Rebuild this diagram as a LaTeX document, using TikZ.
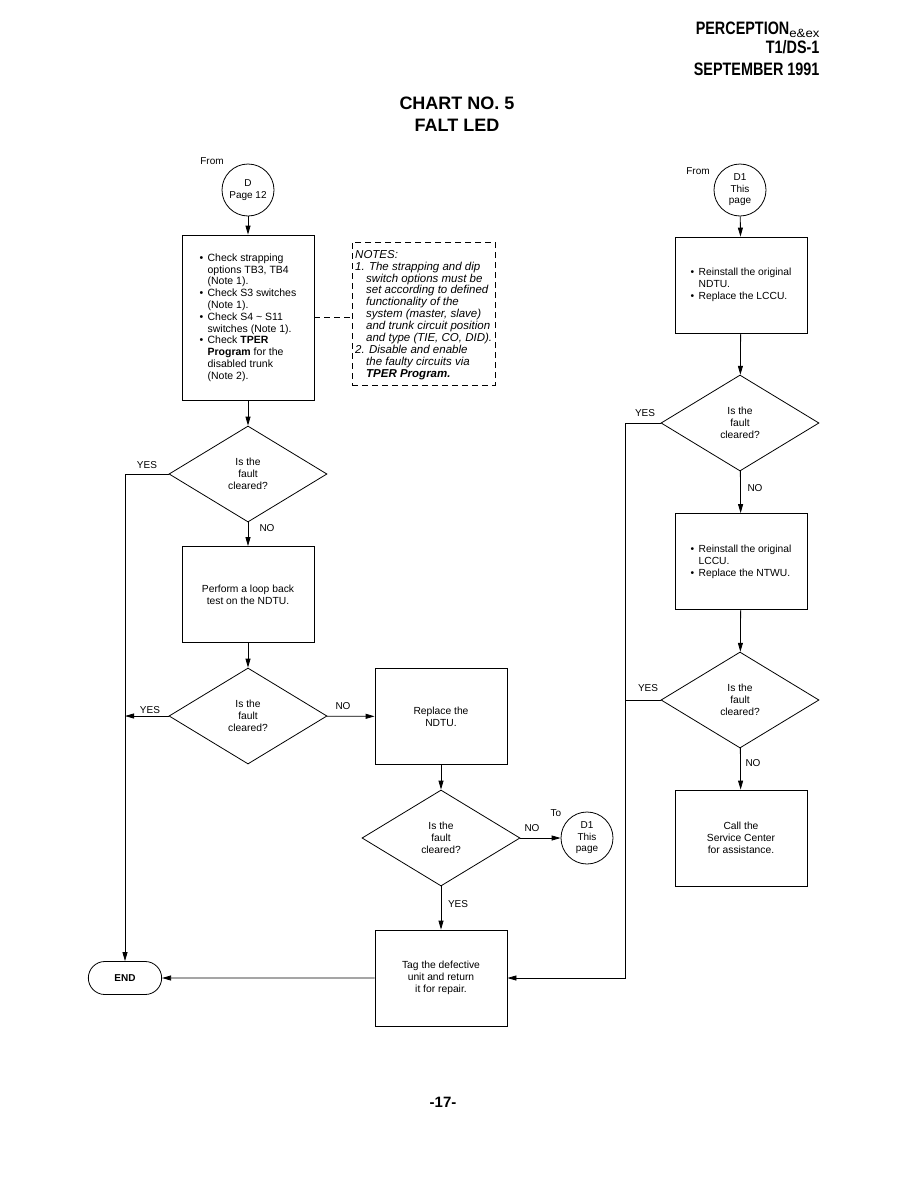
\documentclass[tikz,border=0pt]{standalone}
\usepackage{fontspec}
\setmainfont{Liberation Sans}
\usetikzlibrary{positioning,shapes.geometric,shapes.misc,arrows.meta}

\newcommand\bul{\makebox[8pt][l]{\textbullet}}
\newcommand\ind{\hspace*{8pt}}
\newcommand\nind{\hspace*{11pt}}

\begin{document}
\begin{tikzpicture}[
  x=1pt, y=-1pt,
  lbl/.style={font=\fontsize{10}{12}\selectfont},
  hdr/.style={anchor=base east, font=\bfseries\fontsize{18}{18}\selectfont},
  procbox/.style={draw, line width=0.8pt, minimum width=132, minimum height=96,
    align=center, font=\fontsize{10.3}{12}\selectfont},
  decision/.style={diamond, draw, line width=0.8pt, minimum width=158,
    minimum height=96, inner sep=0pt, align=center, font=\fontsize{10.3}{12}\selectfont},
  conn/.style={circle, draw, line width=0.8pt, minimum size=52, inner sep=0pt,
    align=center, font=\fontsize{10}{11.5}\selectfont},
  terminal/.style={rounded rectangle, draw, line width=0.8pt, minimum width=80,
    minimum height=33, font=\bfseries\fontsize{10}{12}\selectfont},
  arr/.style={draw, line width=0.8pt, -{Triangle[length=9pt,width=5pt]}},
  line/.style={draw, line width=0.8pt}
  ]
  \useasboundingbox (0,0) rectangle (912,1191);

  % header and title
  \node (hdr1) [hdr] at (823,34)
    {\scalebox{0.8}[1]{PERCEPTION}\raisebox{-4pt}{\mdseries\fontsize{12}{12}\selectfont\scalebox{1.1}[1]{e\&ex}}};
  \node (hdr2) [hdr] at (823,53) {\scalebox{0.8}[1]{T1/DS-1}};
  \node (hdr3) [hdr] at (823,75) {\scalebox{0.8}[1]{SEPTEMBER 1991}};
  \node (title) [font=\bfseries\fontsize{18}{22}\selectfont, align=center]
    at (457,114) {CHART NO. 5\\FALT LED};

  % left column
  \node (fromD) [lbl] at (212,161) {From};
  \node (cD) [conn] at (248,190) {D\\Page 12};
  \node (chk) [procbox, minimum height=165, align=left, font=\fontsize{10.5}{11.8}\selectfont]
    at (248,317.5) {\bul Check strapping\\
      \ind options TB3, TB4\\
      \ind (Note 1).\\
      \bul Check S3 switches\\
      \ind (Note 1).\\
      \bul Check S4 \char`~\ S11\\
      \ind switches (Note 1).\\
      \bul Check \textbf{TPER}\\
      \ind \textbf{Program} for the\\
      \ind disabled trunk\\
      \ind (Note 2).};
  \node (notes) [draw, line width=0.8pt, dash pattern=on 6pt off 4pt,
    minimum width=143, minimum height=143] at (423.5,313.5) {};
  \node (notestxt) [anchor=north west, inner sep=0pt, align=left,
    font=\itshape\fontsize{11.5}{11.9}\selectfont] at (355,250)
    {NOTES:\\
      1. The strapping and dip\\
      \nind switch options must be\\
      \nind set according to defined\\
      \nind functionality of the\\
      \nind system (master, slave)\\
      \nind and trunk circuit position\\
      \nind and type (TIE, CO, DID).\\
      2. Disable and enable\\
      \nind the faulty circuits via\\
      \nind \textbf{TPER Program.}};
  \node (q1) [decision] at (248,474) {Is the\\fault\\cleared?};
  \node (loop) [procbox] at (248,594.5) {Perform a loop back\\test on the NDTU.};
  \node (q2) [decision] at (248,716) {Is the\\fault\\cleared?};
  \node (endn) [terminal] at (125,978) {END};

  % middle column
  \node (repl) [procbox] at (441,716.5) {Replace the\\NDTU.};
  \node (q3) [decision] at (441,838) {Is the\\fault\\cleared?};
  \node (toD1) [lbl] at (556,813) {To};
  \node (cD1a) [conn] at (587,838) {D1\\This\\page};
  \node (tag) [procbox] at (441,978) {Tag the defective\\unit and return\\it for repair.};

  % right column
  \node (fromD1) [lbl] at (698,171) {From};
  \node (cD1b) [conn] at (740,190) {D1\\This\\page};
  \node (lccu) [procbox, align=left] at (741,285)
    {\bul Reinstall the original\\ \ind NDTU.\\ \bul Replace the LCCU.};
  \node (q4) [decision] at (740,423) {Is the\\fault\\cleared?};
  \node (ntwu) [procbox, align=left] at (741,561.5)
    {\bul Reinstall the original\\ \ind LCCU.\\ \bul Replace the NTWU.};
  \node (q5) [decision] at (740,700) {Is the\\fault\\cleared?};
  \node (svc) [procbox] at (741,838) {Call the\\Service Center\\for assistance.};
  \coordinate (rbus) at (625,423);

  % branch labels
  \node (y1) [lbl] at (147,465) {YES};
  \node (n1) [lbl] at (267,528) {NO};
  \node (y2) [lbl] at (150,710) {YES};
  \node (n2) [lbl] at (343,706) {NO};
  \node (n3) [lbl] at (532,828) {NO};
  \node (y3) [lbl] at (458,904) {YES};
  \node (y4) [lbl] at (645,413) {YES};
  \node (n4) [lbl] at (755,488) {NO};
  \node (y5) [lbl] at (648,688) {YES};
  \node (n5) [lbl] at (753,763) {NO};

  \node (pnum) [font=\bfseries\fontsize{15}{15}\selectfont] at (443,1102) {-17-};

  % connectors
  \path [arr] (cD) -- (chk);
  \path [line, dash pattern=on 6pt off 4pt] (chk.east) -- (chk.east -| notes.west);
  \path [arr] (chk) -- (q1);
  \path [arr] (q1) -- (loop);
  \path [arr] (q1.west) -| (endn.north);
  \path [arr] (loop) -- (q2);
  \path [arr] (q2.west) -- (q2.west -| endn.north);
  \path [arr] (q2) -- (repl);
  \path [arr] (repl) -- (q3);
  \path [arr] (q3) -- (cD1a);
  \path [arr] (q3) -- (tag);
  \path [arr] (tag) -- (endn);
  \path [arr] (cD1b) -- (lccu);
  \path [arr] (lccu) -- (q4);
  \path [arr] (q4) -- (ntwu);
  \path [arr] (q4.west) -- (rbus) |- (tag.east);
  \path [arr] (ntwu) -- (q5);
  \path [line] (q5.west) -- (q5.west -| rbus);
  \path [arr] (q5) -- (svc);
\end{tikzpicture}
\end{document}
